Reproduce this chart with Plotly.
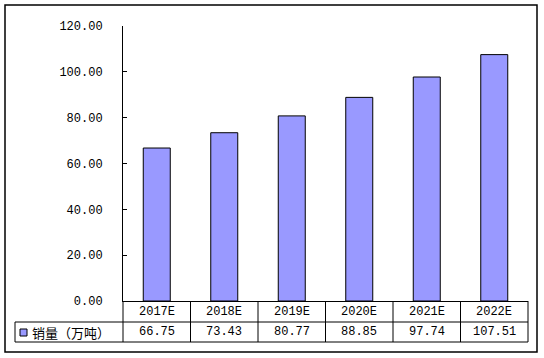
import plotly.graph_objects as go

categories = ["2017E", "2018E", "2019E", "2020E", "2021E", "2022E"]
sales = [66.75, 73.43, 80.77, 88.85, 97.74, 107.51]
series_name = "销量（万吨）"
y_ticks = [0, 20, 40, 60, 80, 100, 120]

W, H = 544, 358
L, R, T, B = 123, 16, 26, 57
PW, PH = W - L - R, H - T - B

def px_x(p):
    return (p - L) / PW

def px_y(p):
    return (H - B - p) / PH

BAR = "#9999FF"
NUMFONT = dict(family="Liberation Mono, DejaVu Sans Mono, monospace", size=12, color="#000000")
CJKFONT = dict(family="Noto Sans CJK SC, sans-serif", size=13, color="#000000")

fig = go.Figure()
fig.add_trace(go.Bar(
    x=categories, y=sales, width=0.4,
    marker=dict(color=BAR, line=dict(color="#000000", width=1)),
    hoverinfo="skip", showlegend=False,
))

shapes = []
line = dict(color="#000000", width=1)
# outer frame
shapes.append(dict(type="rect", xref="paper", yref="paper",
                   x0=px_x(5), x1=px_x(537), y0=px_y(352), y1=px_y(5),
                   line=dict(color="#000000", width=1.5), layer="below"))
# table horizontal lines
y_row1 = px_y(322)
y_row2 = px_y(342)
for yy in (y_row1, y_row2):
    shapes.append(dict(type="line", xref="paper", yref="paper",
                       x0=px_x(15), x1=1, y0=yy, y1=yy, line=line))
# vertical lines between columns
n = len(categories)
for k in range(n + 1):
    shapes.append(dict(type="line", xref="paper", yref="paper",
                       x0=k / n, x1=k / n, y0=0, y1=y_row2, line=line))
# left cell border
shapes.append(dict(type="line", xref="paper", yref="paper",
                   x0=px_x(15), x1=px_x(15), y0=y_row1, y1=y_row2, line=line))
# legend key
shapes.append(dict(type="rect", xref="paper", yref="paper",
                   x0=px_x(20), x1=px_x(27), y0=px_y(336), y1=px_y(329),
                   fillcolor=BAR, line=dict(color="#000000", width=1)))

annotations = []
for c, v in zip(categories, sales):
    annotations.append(dict(x=c, xref="x", y=(0 + y_row1) / 2, yref="paper",
                            text=c, showarrow=False, font=NUMFONT,
                            xanchor="center", yanchor="middle"))
    annotations.append(dict(x=c, xref="x", y=(y_row1 + y_row2) / 2, yref="paper",
                            text=f"{v:.2f}", showarrow=False, font=NUMFONT,
                            xanchor="center", yanchor="middle"))
annotations.append(dict(x=px_x(30), xref="paper", y=(y_row1 + y_row2) / 2, yref="paper",
                        text=series_name, showarrow=False, font=CJKFONT,
                        xanchor="left", yanchor="middle"))

fig.update_layout(
    width=W, height=H,
    margin=dict(l=L, r=R, t=T, b=B),
    paper_bgcolor="#FFFFFF", plot_bgcolor="#FFFFFF",
    bargap=0.6,
    shapes=shapes, annotations=annotations,
    xaxis=dict(type="category", range=[-0.5, n - 0.5], showticklabels=False,
               showline=True, linecolor="#000000", linewidth=1, ticks="",
               showgrid=False, zeroline=False, fixedrange=True),
    yaxis=dict(range=[0, 120], tickvals=y_ticks, tickformat=".2f",
               showline=True, linecolor="#000000", linewidth=1,
               ticks="inside", ticklen=4, tickcolor="#000000",
               ticklabelstandoff=17, tickfont=NUMFONT,
               showgrid=False, zeroline=False, fixedrange=True),
)

fig.write_html("out.html", config={"displayModeBar": False},
               post_script="document.body.style.margin='0';")
